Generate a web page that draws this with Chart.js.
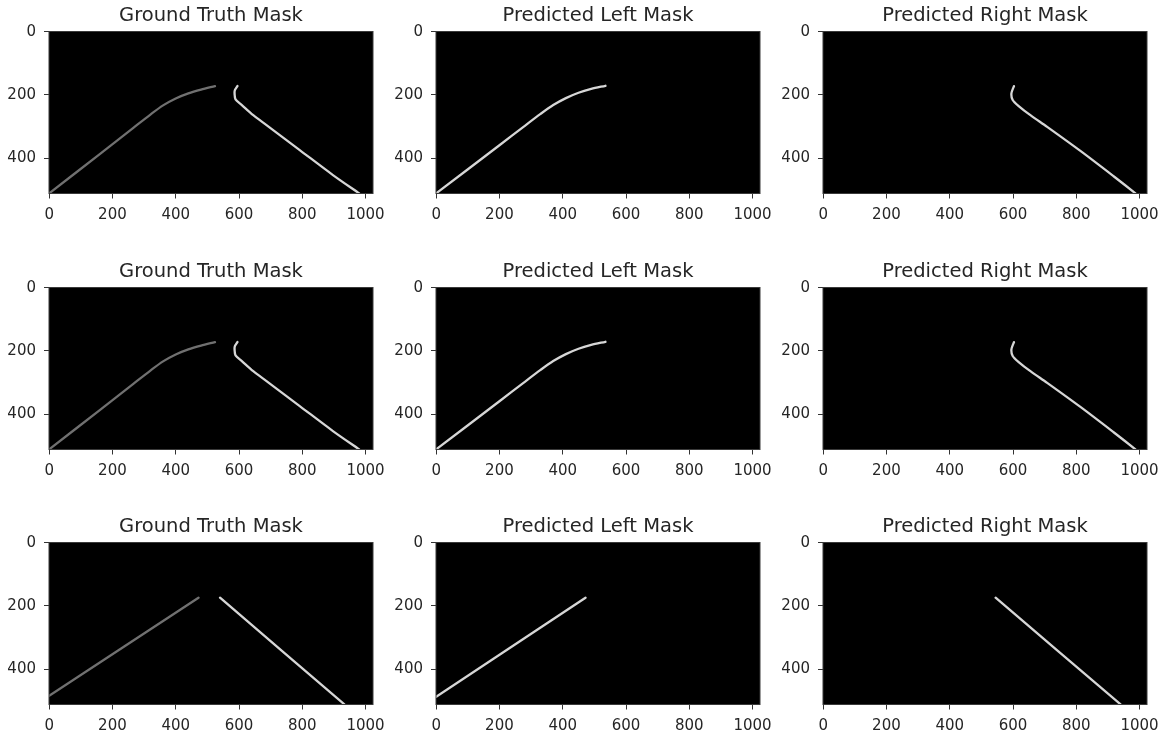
<!DOCTYPE html>
<html>
<head>
<meta charset="utf-8">
<script src="https://cdn.jsdelivr.net/npm/chart.js@4"></script>
<style>
  html, body { margin: 0; padding: 0; background: #fff; width: 1170px; height: 737px; overflow: hidden; }
  .panel { position: absolute; }
  .panel canvas { filter: blur(0.4px); }
</style>
</head>
<body>
<script>
// axis ticks (image pixel coordinates, 1024 x 512 mask)
const xTicks = [0, 200, 400, 600, 800, 1000];
const yTicks = [0, 200, 400];
const panelTitles = ['Ground Truth Mask', 'Predicted Left Mask', 'Predicted Right Mask'];

// frame A (rows 1 and 2 show the same frame)
const gtLeftX_A = [3, 161, 266, 320, 360, 400, 440, 480, 524];
const gtLeftY_A = [509, 386, 304, 262, 233, 211, 195, 183, 172];
const gtRightX_A = [595, 587, 586, 589, 609, 645, 688, 793, 898, 980];
const gtRightY_A = [172, 185, 195, 214, 232, 264, 296, 375, 454, 511];
const predLeftX_A = [3, 200, 277, 330, 370, 410, 450, 490, 535];
const predLeftY_A = [509, 359, 300, 260, 232, 210, 193, 181, 171];
const predRightX_A = [603, 595, 599, 618, 655, 708, 813, 918, 987];
const predRightY_A = [172, 195, 216, 235, 264, 301, 377, 457, 511];

// frame B (row 3)
const gtLeftX_B = [0, 472];
const gtLeftY_B = [484, 174];
const gtRightX_B = [540, 933];
const gtRightY_B = [174, 511];
const predLeftX_B = [0, 472];
const predLeftY_B = [487, 174];
const predRightX_B = [545, 940];
const predRightY_B = [174, 511];

const GT_LEFT = '#707070', BRIGHT = '#d6d6d6';

function pts(xs, ys) { return xs.map((x, i) => ({ x: x, y: ys[i] })); }
function line(xs, ys, color) {
    return { data: pts(xs, ys), borderColor: color, borderWidth: 2.3, showLine: true, pointRadius: 0, tension: 0.3, borderCapStyle: 'round' };
}

const frames = [
    [[line(gtLeftX_A, gtLeftY_A, GT_LEFT), line(gtRightX_A, gtRightY_A, BRIGHT)], [line(predLeftX_A, predLeftY_A, BRIGHT)], [line(predRightX_A, predRightY_A, BRIGHT)]],
    [[line(gtLeftX_A, gtLeftY_A, GT_LEFT), line(gtRightX_A, gtRightY_A, BRIGHT)], [line(predLeftX_A, predLeftY_A, BRIGHT)], [line(predRightX_A, predRightY_A, BRIGHT)]],
    [[line(gtLeftX_B, gtLeftY_B, GT_LEFT), line(gtRightX_B, gtRightY_B, BRIGHT)], [line(predLeftX_B, predLeftY_B, BRIGHT)], [line(predRightX_B, predRightY_B, BRIGHT)]]
];

const colLeft = [0, 386.7, 773.7];
const rowTop = [0, 256, 511];

// black image background + frame round the axes
const imageFrame = {
    id: 'imageFrame',
    beforeDatasetsDraw(chart) {
        const a = chart.chartArea, ctx = chart.ctx;
        ctx.save();
        ctx.fillStyle = '#000';
        ctx.fillRect(a.left, a.top, a.right - a.left, a.bottom - a.top);
        ctx.restore();
    },
    afterDatasetsDraw(chart) {
        const a = chart.chartArea, ctx = chart.ctx;
        ctx.save();
        ctx.strokeStyle = '#3a3a3a';
        ctx.lineWidth = 1;
        ctx.strokeRect(a.left, a.top, a.right - a.left, a.bottom - a.top);
        ctx.restore();
    }
};

const tickFont = { family: 'DejaVu Sans', size: 15 };

for (let r = 0; r < 3; r++) {
    for (let c = 0; c < 3; c++) {
        const div = document.createElement('div');
        div.className = 'panel';
        div.style.left = colLeft[c] + 'px';
        div.style.top = rowTop[r] + 'px';
        const cv = document.createElement('canvas');
        cv.width = 387; cv.height = 226;
        div.appendChild(cv);
        document.body.appendChild(div);

        new Chart(cv, {
            type: 'scatter',
            data: { datasets: frames[r][c] },
            options: {
                responsive: false,
                animation: false,
                layout: { padding: { left: 0, right: 14, top: 0, bottom: 0 } },
                plugins: {
                    legend: { display: false },
                    tooltip: { enabled: false },
                    title: {
                        display: true, fullSize: false, text: panelTitles[c], color: '#262626',
                        font: { family: 'DejaVu Sans', size: 19.5, weight: 'normal', lineHeight: 1.2 },
                        padding: { top: 4, bottom: 4.1 }
                    }
                },
                scales: {
                    x: {
                        type: 'linear', min: -0.5, max: 1023.5,
                        afterBuildTicks: s => { s.ticks = xTicks.map(v => ({ value: v })); },
                        afterFit: s => { s.height = 32.5; s.paddingLeft = 0; s.paddingRight = 0; },
                        grid: { display: true, drawOnChartArea: false, drawTicks: true, tickLength: 5, color: '#333' },
                        border: { display: false },
                        ticks: { font: tickFont, color: '#262626', padding: 8, maxRotation: 0, autoSkip: false, callback: v => String(v) }
                    },
                    y: {
                        type: 'linear', reverse: true, min: -0.5, max: 511.5,
                        afterBuildTicks: s => { s.ticks = yTicks.map(v => ({ value: v })); },
                        afterFit: s => { s.width = 49; s.paddingTop = 0; s.paddingBottom = 0; },
                        grid: { display: true, drawOnChartArea: false, drawTicks: true, tickLength: 5, color: '#333' },
                        border: { display: false },
                        ticks: { font: tickFont, color: '#262626', padding: 8, autoSkip: false, callback: v => String(v) }
                    }
                }
            },
            plugins: [imageFrame]
        });
    }
}
</script>
</body>
</html>
